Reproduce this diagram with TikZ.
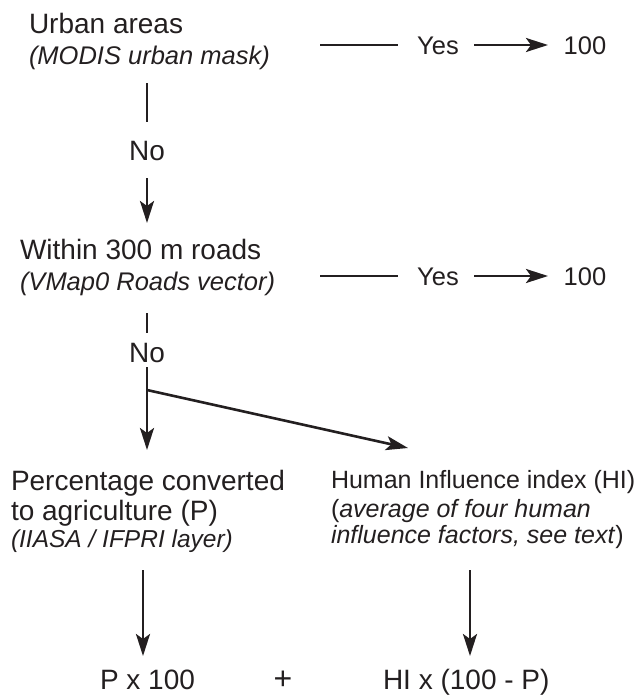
\documentclass[tikz,border=0pt]{standalone}
\usepackage{fontspec}
\setmainfont{Liberation Sans}
\usetikzlibrary{arrows.meta}
\definecolor{ink}{HTML}{231F20}
\tikzset{
  lbl/.style={inner sep=0pt, outer sep=0pt, anchor=base west, text=ink},
  mid/.style={inner sep=0pt, outer sep=0pt, anchor=base, text=ink},
  big/.style={font=\fontsize{28}{31}\selectfont},
  med/.style={font=\fontsize{25.5}{28}\selectfont},
  hifont/.style={font=\fontsize{25}{28}\selectfont},
  sub/.style={font=\fontsize{25.5}{28}\selectfont\itshape},
  conn/.style={line width=2.6pt, draw=ink},
  arr/.style={conn, -{Stealth[length=22pt,width=14pt,inset=5pt]}},
}
\begin{document}
\begin{tikzpicture}[x=1pt,y=-1pt]
\useasboundingbox (0,0) rectangle (640,696);

% block 1
\node[lbl,big] (urban) at (29,33) {Urban areas};
\node[lbl,sub] (modis) at (29,64) {(MODIS urban mask)};
\coordinate (y1a) at (320,45);
\coordinate (y1b) at (398,45);
\node[mid,med] (yes1) at (438,54) {Yes};
\coordinate (y1c) at (474,45);
\coordinate (y1d) at (548,45);
\node[mid,med] (h1) at (585,54) {100};
\draw[conn] (y1a) -- (y1b);
\draw[arr] (y1c) -- (y1d);

\coordinate (v1a) at (147,83);
\coordinate (v1b) at (147,122);
\node[mid,big] (no1) at (147,160) {No};
\coordinate (v1c) at (147,178);
\coordinate (v1d) at (147,223);
\draw[conn] (v1a) -- (v1b);
\draw[arr] (v1c) -- (v1d);

% block 2
\node[lbl,big] (within) at (20,259) {Within 300 m roads};
\node[lbl,sub] (vmap) at (20,290) {(VMap0 Roads vector)};
\coordinate (y2a) at (320,276);
\coordinate (y2b) at (398,276);
\node[mid,med] (yes2) at (438,285) {Yes};
\coordinate (y2c) at (474,276);
\coordinate (y2d) at (548,276);
\node[mid,med] (h2) at (585,285) {100};
\draw[conn] (y2a) -- (y2b);
\draw[arr] (y2c) -- (y2d);

\coordinate (v2a) at (147,313);
\coordinate (v2b) at (147,333);
\node[mid,big] (no2) at (147,362) {No};
\coordinate (v2c) at (147,367);
\coordinate (v2d) at (147,450);
\coordinate (dg) at (147,390);
\coordinate (dgend) at (408,448);
\draw[conn] (v2a) -- (v2b);
\draw[arr] (v2c) -- (v2d);
\draw[arr] (dg) -- (dgend);

% block 3 left
\node[lbl,big] (pc1) at (11,490) {Percentage converted};
\node[lbl,big] (pc2) at (11,520) {to agriculture (P)};
\node[lbl,font=\fontsize{24.5}{28}\selectfont\itshape] (pc3) at (11,547) {(IIASA / IFPRI layer)};

% block 3 right
\node[lbl,hifont] (hi1) at (331,488) {Human Influence index (HI)};
\node[lbl,hifont] (hi2) at (331,517) {(\textit{average of four human}};
\node[lbl,hifont] (hi3) at (331,543) {\textit{influence factors, see text})};

% bottom
\coordinate (l1) at (143,570);
\coordinate (l2) at (143,656);
\coordinate (r1) at (470,570);
\coordinate (r2) at (470,656);
\draw[arr] (l1) -- (l2);
\draw[arr] (r1) -- (r2);
\node[lbl,big] (px) at (100,689) {P x 100};
\node[mid, font=\fontsize{32}{32}\selectfont] (plus) at (283,689) {+};
\node[lbl,big] (hix) at (383,689) {HI x (100 - P)};
\end{tikzpicture}
\end{document}
